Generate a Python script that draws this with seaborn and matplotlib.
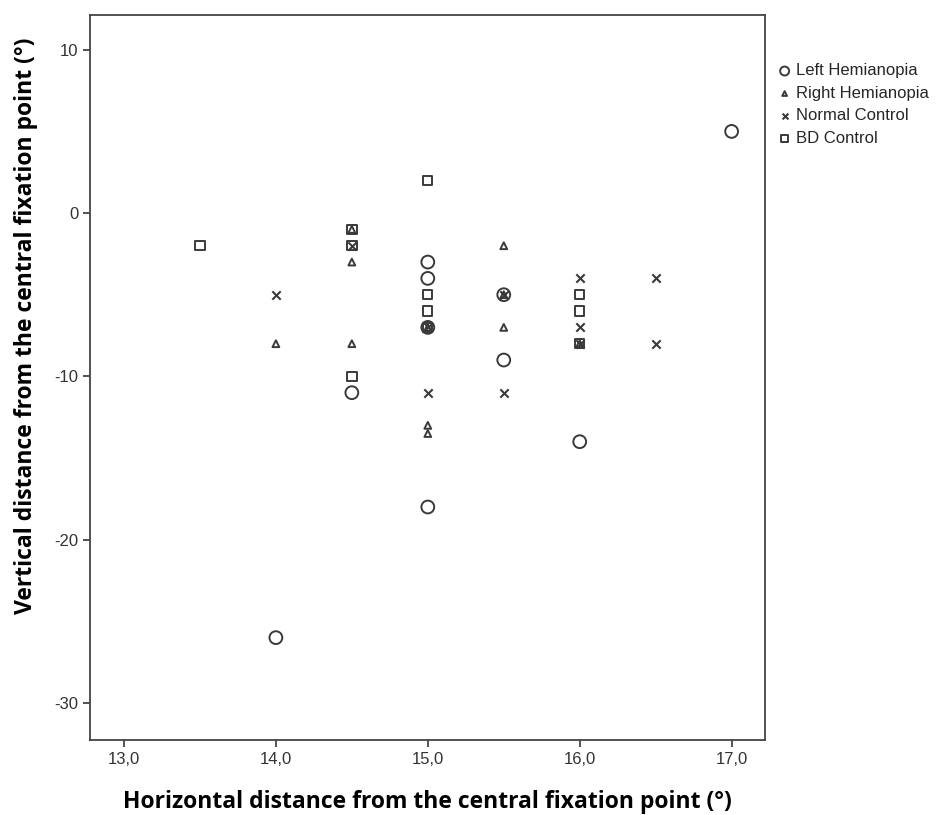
"""Scatter of horizontal vs vertical distance from the central fixation point, by group"""
import pandas as pd
import seaborn as sns
import matplotlib.pyplot as plt
from matplotlib.ticker import FuncFormatter

# Values
left_x = [14.0, 14.5, 15.0, 15.0, 15.0, 15.0, 15.5, 15.5, 16.0, 17.0]
left_y = [-26, -11, -3, -4, -7, -18, -5, -9, -14, 5]

right_x = [14.0, 14.5, 14.5, 14.5, 15.0, 15.0, 15.0, 15.5, 15.5, 15.5, 16.0]
right_y = [-8, -1, -3, -8, -13, -13.5, -7, -2, -5, -7, -8]

normal_x = [14.0, 14.5, 15.0, 15.0, 15.5, 15.5, 16.0, 16.0, 16.0, 16.5, 16.5]
normal_y = [-5, -2, -7, -11, -5, -11, -4, -7, -8, -4, -8]

bd_x = [13.5, 14.5, 14.5, 14.5, 15.0, 15.0, 15.0, 15.0, 16.0, 16.0, 16.0]
bd_y = [-2, -1, -2, -10, 2, -5, -6, -7, -5, -6, -8]

groups = ["Left Hemianopia", "Right Hemianopia", "Normal Control", "BD Control"]

frames = []
for name, xs, ys in zip(groups, [left_x, right_x, normal_x, bd_x],
                        [left_y, right_y, normal_y, bd_y]):
    frames.append(pd.DataFrame({"x": xs, "y": ys, "group": name}))
data = pd.concat(frames, ignore_index=True)

sns.set_theme(style="white")
plt.rcParams["font.family"] = ["Liberation Sans", "DejaVu Sans"]

fig = plt.figure(figsize=(9.37, 8.15), dpi=100)
ax = fig.add_axes([0.096, 0.092, 0.72, 0.89])

ink = "#3a3a3a"
marker_styles = {
    "Left Hemianopia": dict(marker="o", s=85),
    "Right Hemianopia": dict(marker="^", s=24),
    "Normal Control": dict(marker="x", s=36),
    "BD Control": dict(marker="s", s=45),
}

for name in groups:
    sub = data[data["group"] == name]
    style = marker_styles[name]
    if style["marker"] == "x":
        sns.scatterplot(data=sub, x="x", y="y", ax=ax, label=name,
                        marker="x", s=style["s"], color=ink, linewidth=1.5)
    else:
        sns.scatterplot(data=sub, x="x", y="y", ax=ax, label=name,
                        marker=style["marker"], s=style["s"],
                        facecolors="none", edgecolor=ink, linewidth=1.4)

ax.set_xlim(12.776, 17.217)
ax.set_ylim(-32.27, 12.15)
ax.set_xticks([13, 14, 15, 16, 17])
ax.set_yticks([10, 0, -10, -20, -30])
ax.xaxis.set_major_formatter(FuncFormatter(lambda v, p: f"{v:.1f}".replace(".", ",")))
ax.yaxis.set_major_formatter(FuncFormatter(lambda v, p: f"{v:.0f}"))
ax.tick_params(axis="both", direction="out", length=5, width=1.3, color="#444444",
               labelsize=12, labelcolor="#333333", bottom=True, left=True)

for side in ax.spines.values():
    side.set_color("#444444")
    side.set_linewidth(1.3)

label_font = dict(fontsize=16.5, fontweight="bold", family=["Open Sans", "DejaVu Sans"],
                  color="black", va="center")
ax.set_xlabel("Horizontal distance from the central fixation point (°)", **label_font)
ax.set_ylabel("Vertical distance from the central fixation point (°)", **label_font)
ax.xaxis.set_label_coords(0.5, -0.086)
ax.yaxis.set_label_coords(-0.095, 0.571)

ax.legend(loc="upper left", bbox_to_anchor=(1.005, 0.942), frameon=False,
          fontsize=12, handletextpad=0.1, labelspacing=0.45,
          borderaxespad=0, markerscale=0.7, handlelength=1.2)

plt.savefig("out.png", dpi=100)
plt.close()
